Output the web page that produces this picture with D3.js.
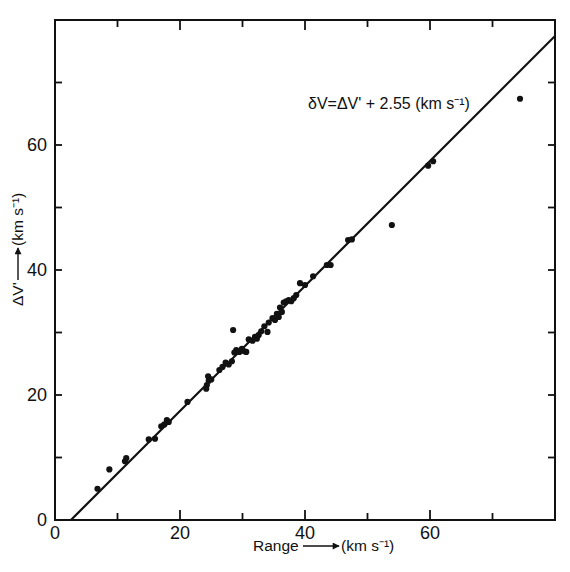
<!DOCTYPE html>
<html><head><meta charset="utf-8">
<script src="https://cdn.jsdelivr.net/npm/d3@7"></script>
<style>body{margin:0;background:#fff}svg{display:block}text{font-family:"Liberation Sans",Arial,sans-serif;fill:#111}</style>
</head><body><svg id="c" width="570" height="572"></svg>
<script>
const rangeVals = [6.8,8.7,11.2,11.4,15.0,16.0,17.0,17.5,17.9,18.2,21.2,24.2,24.3,24.6,24.5,25.0,26.3,26.8,27.3,27.8,28.3,28.5,28.7,29.0,29.5,29.9,30.3,30.6,31.0,31.6,32.0,32.3,32.6,33.0,33.5,34.0,34.2,34.8,35.2,35.5,35.8,36.0,36.3,36.6,37.0,37.4,37.8,38.2,38.6,39.2,40.0,41.3,43.5,44.1,46.9,47.5,53.9,59.7,60.5,74.4];
const dvVals    = [5.0,8.1,9.4,9.9,12.9,13.0,15.0,15.3,16.0,15.7,18.9,21.0,21.6,22.3,23.0,22.5,24.0,24.5,25.2,24.9,25.4,30.4,26.8,27.2,26.9,27.4,27.0,26.9,28.9,28.7,29.3,29.0,29.6,30.2,31.0,30.1,31.6,32.3,32.0,33.0,32.5,34.0,33.3,34.8,35.0,35.2,35.0,35.5,36.0,37.9,37.6,39.0,40.8,40.8,44.8,44.9,47.2,56.7,57.4,67.4];
const fitOffset = 2.55;
const xMajor = [0,20,40,60], xMinor = [10,30,50,70];
const yMajor = [0,20,40,60], yMinor = [10,30,50,70];

const svg = d3.select("#c");
const L=55,R=555,T=20,B=520;
const x = d3.scaleLinear().domain([0,80]).range([L,R]);
const y = d3.scaleLinear().domain([0,80]).range([B,T]);

// frame
svg.append("rect").attr("x",L).attr("y",T).attr("width",R-L).attr("height",B-T)
  .attr("fill","none").attr("stroke","#111").attr("stroke-width",2);

// ticks (inward)
const tk = svg.append("g").attr("stroke","#111").attr("stroke-width",1.8);
xMajor.concat(xMinor).forEach(v=>{
  const len = xMajor.includes(v)?10:7;
  if(v>0){
  tk.append("line").attr("x1",x(v)).attr("x2",x(v)).attr("y1",B).attr("y2",B-len);
  tk.append("line").attr("x1",x(v)).attr("x2",x(v)).attr("y1",T).attr("y2",T+len);}
});
yMajor.concat(yMinor).forEach(v=>{
  if(v>0){
  tk.append("line").attr("y1",y(v)).attr("y2",y(v)).attr("x1",L).attr("x2",L+7);
  tk.append("line").attr("y1",y(v)).attr("y2",y(v)).attr("x1",R).attr("x2",R-7);}
});

// tick labels
svg.append("g").selectAll("text").data(xMajor).join("text")
  .attr("x",d=>x(d)).attr("y",B+19).attr("text-anchor","middle").attr("font-size",18).text(d=>d);
svg.append("g").selectAll("text").data(yMajor).join("text")
  .attr("x",L-8).attr("y",d=>y(d)+6).attr("text-anchor","end").attr("font-size",18).text(d=>d);

// fit line
const line = d3.line().x(d=>x(d[0])).y(d=>y(d[1]));
svg.append("path").attr("d",line([[fitOffset,0],[80,80-fitOffset]]))
  .attr("stroke","#111").attr("stroke-width",2.2).attr("fill","none");

// points
svg.append("g").selectAll("circle").data(rangeVals.map((r,i)=>[r,dvVals[i]])).join("circle")
  .attr("cx",d=>x(d[0])).attr("cy",d=>y(d[1])).attr("r",3.1).attr("fill","#111");

// equation
svg.append("text").attr("x",308).attr("y",109).attr("font-size",16)
  .text("δV=ΔV' + 2.55 (km s⁻¹)");

// arrowhead marker
const defs = svg.append("defs");
defs.append("marker").attr("id","ah").attr("viewBox","0 0 10 10").attr("refX",9).attr("refY",5)
  .attr("markerWidth",7).attr("markerHeight",5).attr("orient","auto")
  .append("path").attr("d","M0,0L10,5L0,10z").attr("fill","#111");

// x label
svg.append("text").attr("x",253).attr("y",551).attr("font-size",15.5).text("Range");
svg.append("line").attr("x1",303).attr("x2",339).attr("y1",546).attr("y2",546)
  .attr("stroke","#111").attr("stroke-width",1.4).attr("marker-end","url(#ah)");
svg.append("text").attr("x",341).attr("y",551).attr("font-size",15.5).text("(km s⁻¹)");

// y label
const yl = svg.append("g").attr("transform","translate(23,0)");
yl.append("text").attr("transform","translate(0,306) rotate(-90)").attr("font-size",15.5).text("ΔV'");
yl.append("line").attr("x1",-5).attr("x2",-5).attr("y1",280).attr("y2",248)
  .attr("stroke","#111").attr("stroke-width",1.4).attr("marker-end","url(#ah)");
yl.append("text").attr("transform","translate(0,246) rotate(-90)").attr("font-size",15.5).text("(km s⁻¹)");
</script></body></html>
